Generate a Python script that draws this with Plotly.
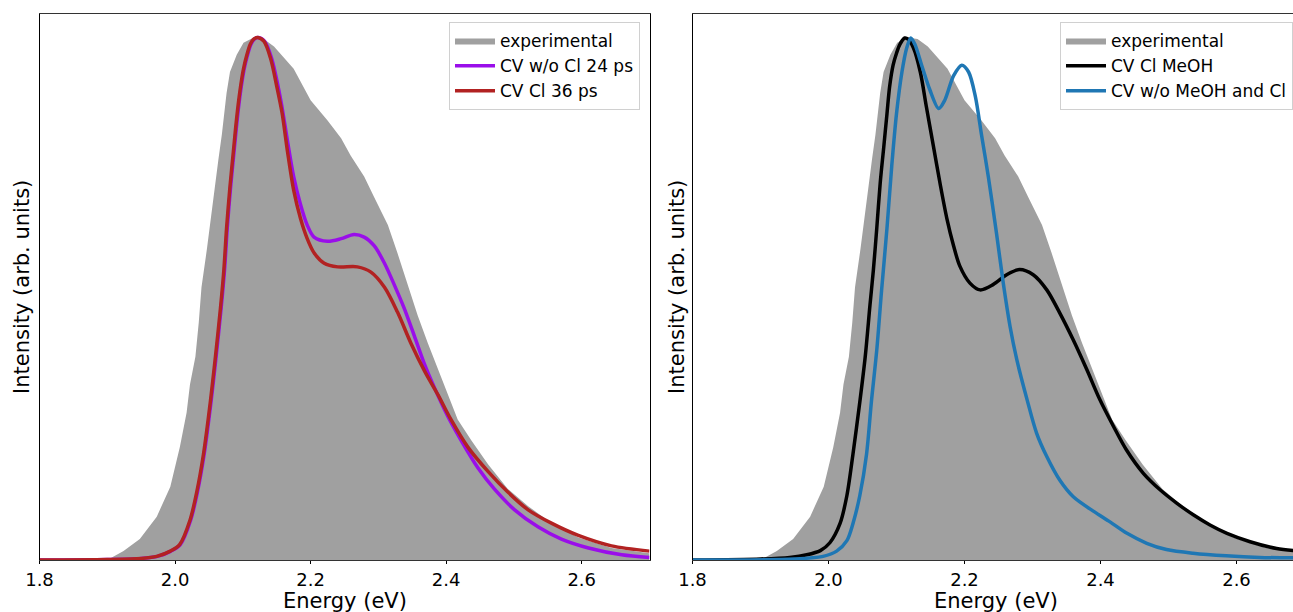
import plotly.graph_objects as go

# ---------------- data ----------------
exp_x = [1.80, 1.904, 1.924, 1.948, 1.973, 1.993, 2.007, 2.017, 2.022, 2.030, 2.035, 2.039,
         2.047, 2.052, 2.059, 2.064, 2.069, 2.076, 2.081, 2.091, 2.101, 2.116, 2.131, 2.146,
         2.175, 2.200, 2.225, 2.245, 2.259, 2.279, 2.294, 2.314, 2.328, 2.343, 2.358, 2.373,
         2.383, 2.397, 2.417, 2.437, 2.462, 2.491, 2.521, 2.556, 2.595, 2.644, 2.70]
exp_y = [0.0, 0.003, 0.017, 0.040, 0.083, 0.140, 0.216, 0.282, 0.336, 0.389, 0.455, 0.522,
         0.595, 0.648, 0.714, 0.767, 0.814, 0.894, 0.934, 0.967, 0.990, 1.0, 0.997, 0.983,
         0.940, 0.880, 0.841, 0.807, 0.774, 0.734, 0.694, 0.641, 0.588, 0.528, 0.468, 0.415,
         0.382, 0.336, 0.269, 0.229, 0.183, 0.136, 0.103, 0.070, 0.043, 0.023, 0.013]

cl36_x = [1.80, 1.90, 1.95, 1.973, 1.993, 2.007, 2.022, 2.032, 2.042, 2.052, 2.059, 2.067,
          2.072, 2.076, 2.081, 2.086, 2.091, 2.096, 2.101, 2.106, 2.111, 2.116, 2.122, 2.131,
          2.141, 2.150, 2.158, 2.166, 2.175, 2.185, 2.195, 2.205, 2.220, 2.240, 2.269, 2.289,
          2.309, 2.328, 2.348, 2.368, 2.388, 2.407, 2.432, 2.462, 2.491, 2.521, 2.556, 2.595,
          2.644, 2.70]
cl36_y = [0.0, 0.001, 0.003, 0.007, 0.017, 0.030, 0.076, 0.130, 0.203, 0.302, 0.382, 0.482,
          0.555, 0.635, 0.714, 0.781, 0.847, 0.900, 0.940, 0.967, 0.987, 0.997, 1.0, 0.993,
          0.960, 0.907, 0.855, 0.781, 0.708, 0.654, 0.615, 0.588, 0.568, 0.561, 0.561, 0.551,
          0.522, 0.475, 0.415, 0.362, 0.316, 0.269, 0.216, 0.169, 0.130, 0.096, 0.070, 0.047,
          0.027, 0.017]

nocl24_x = [1.80, 1.90, 1.95, 1.974, 1.994, 2.008, 2.023, 2.033, 2.043, 2.053, 2.060, 2.068,
            2.073, 2.077, 2.082, 2.087, 2.092, 2.097, 2.102, 2.107, 2.112, 2.117, 2.123, 2.132,
            2.142, 2.156, 2.166, 2.175, 2.185, 2.195, 2.205, 2.225, 2.245, 2.264, 2.279, 2.294,
            2.309, 2.323, 2.338, 2.353, 2.368, 2.383, 2.402, 2.422, 2.447, 2.471, 2.501, 2.536,
            2.570, 2.610, 2.659, 2.70]
nocl24_y = [0.0, 0.001, 0.003, 0.007, 0.017, 0.030, 0.076, 0.130, 0.203, 0.302, 0.382, 0.482,
            0.555, 0.635, 0.714, 0.781, 0.847, 0.900, 0.940, 0.967, 0.987, 0.997, 1.0, 0.993,
            0.962, 0.880, 0.801, 0.734, 0.681, 0.641, 0.618, 0.610, 0.615, 0.623, 0.618, 0.601,
            0.568, 0.528, 0.482, 0.429, 0.375, 0.329, 0.276, 0.229, 0.176, 0.136, 0.096, 0.063,
            0.040, 0.023, 0.010, 0.005]

meoh_x = [1.80, 1.90, 1.943, 1.968, 1.988, 2.002, 2.017, 2.027, 2.036, 2.046, 2.054, 2.061,
          2.066, 2.071, 2.076, 2.081, 2.086, 2.090, 2.095, 2.100, 2.105, 2.112, 2.117, 2.125,
          2.135, 2.144, 2.154, 2.164, 2.174, 2.184, 2.193, 2.208, 2.223, 2.242, 2.262, 2.281,
          2.301, 2.321, 2.340, 2.360, 2.380, 2.399, 2.419, 2.438, 2.463, 2.488, 2.512, 2.537,
          2.561, 2.586, 2.620, 2.659, 2.70]
meoh_y = [0.0, 0.002, 0.005, 0.010, 0.018, 0.033, 0.070, 0.123, 0.203, 0.302, 0.389, 0.488,
          0.555, 0.635, 0.721, 0.787, 0.854, 0.907, 0.947, 0.970, 0.987, 0.999, 0.997, 0.980,
          0.934, 0.867, 0.794, 0.721, 0.654, 0.601, 0.563, 0.530, 0.517, 0.527, 0.546, 0.556,
          0.546, 0.517, 0.473, 0.421, 0.364, 0.307, 0.256, 0.211, 0.166, 0.134, 0.109, 0.086,
          0.067, 0.051, 0.035, 0.022, 0.016]

bare_x = [1.80, 1.95, 1.992, 2.012, 2.027, 2.036, 2.046, 2.056, 2.063, 2.071, 2.078, 2.086,
          2.093, 2.100, 2.108, 2.115, 2.121, 2.127, 2.137, 2.149, 2.162, 2.171, 2.184, 2.196,
          2.206, 2.216, 2.225, 2.235, 2.247, 2.257, 2.267, 2.277, 2.292, 2.306, 2.321, 2.340,
          2.360, 2.390, 2.414, 2.439, 2.468, 2.497, 2.536, 2.585, 2.634, 2.70]
bare_y = [0.0, 0.002, 0.007, 0.017, 0.037, 0.070, 0.123, 0.203, 0.302, 0.402, 0.515, 0.635,
          0.754, 0.854, 0.934, 0.980, 0.999, 0.987, 0.947, 0.900, 0.864, 0.880, 0.927, 0.947,
          0.934, 0.887, 0.814, 0.734, 0.626, 0.530, 0.447, 0.383, 0.307, 0.243, 0.198, 0.153,
          0.121, 0.093, 0.073, 0.051, 0.032, 0.020, 0.013, 0.008, 0.005, 0.004]

tick_vals = [1.8, 2.0, 2.2, 2.4, 2.6]
tick_text = ["1.8", "2.0", "2.2", "2.4", "2.6"]

GRAY = "#a0a0a0"
FONT = "DejaVu Sans"
W, H = 1293, 612
SPL = dict(shape="spline", smoothing=0.85)

fig = go.Figure()

# left panel
fig.add_trace(go.Scatter(x=exp_x, y=exp_y, mode="lines", fill="tozeroy", fillcolor=GRAY,
                         line=dict(width=0, color=GRAY), name="experimental",
                         xaxis="x", yaxis="y", legend="legend"))
fig.add_trace(go.Scatter(x=nocl24_x, y=nocl24_y, mode="lines", name="CV w/o Cl 24 ps",
                         line=dict(color="#9a0eea", width=3.5, **SPL),
                         xaxis="x", yaxis="y", legend="legend"))
fig.add_trace(go.Scatter(x=cl36_x, y=cl36_y, mode="lines", name="CV Cl 36 ps",
                         line=dict(color="#b22222", width=3.5, **SPL),
                         xaxis="x", yaxis="y", legend="legend"))

# right panel
fig.add_trace(go.Scatter(x=exp_x, y=exp_y, mode="lines", fill="tozeroy", fillcolor=GRAY,
                         line=dict(width=0, color=GRAY), name="experimental",
                         xaxis="x2", yaxis="y2", legend="legend2"))
fig.add_trace(go.Scatter(x=meoh_x, y=meoh_y, mode="lines", name="CV Cl MeOH",
                         line=dict(color="black", width=3.5, **SPL),
                         xaxis="x2", yaxis="y2", legend="legend2"))
fig.add_trace(go.Scatter(x=bare_x, y=bare_y, mode="lines", name="CV w/o MeOH and Cl",
                         line=dict(color="#1f77b4", width=3.5, **SPL),
                         xaxis="x2", yaxis="y2", legend="legend2"))

ydom = [1 - 560 / H, 1 - 14 / H]
xcommon = dict(tickvals=tick_vals, ticktext=tick_text, ticks="outside", ticklen=3,
               tickcolor="black", tickwidth=1, showgrid=False, zeroline=False,
               showline=True, linecolor="#333333", linewidth=1, mirror=True,
               tickfont=dict(family=FONT, size=18, color="black"), automargin=False)
ycommon = dict(range=[0, 1.045], showticklabels=False, ticks="", showgrid=False,
               zeroline=False, showline=True, linecolor="black", linewidth=1,
               automargin=False)

legcommon = dict(bgcolor="rgba(255,255,255,0.8)", bordercolor="#d0d0d0", borderwidth=1,
                 font=dict(family=FONT, size=17, color="black"), itemwidth=40,
                 yanchor="top", xanchor="right", y=1 - 22 / H)

fig.update_layout(
    width=W, height=H, margin=dict(l=0, r=0, t=0, b=0),
    paper_bgcolor="white", plot_bgcolor="white",
    xaxis=dict(domain=[39.5 / W, 649.5 / W], range=[1.8, 2.7], anchor="y", **xcommon),
    yaxis=dict(domain=ydom, anchor="x", mirror=True, **ycommon),
    xaxis2=dict(domain=[692.5 / W, 1.0], range=[1.8, 1.8 + 600.5 / 680], anchor="y2", **xcommon),
    yaxis2=dict(domain=ydom, anchor="x2", mirror=False, **ycommon),
    legend=dict(x=640 / W, **legcommon),
    legend2=dict(x=1.0, **legcommon),
    showlegend=True,
)

anns = [
    dict(text="Energy (eV)", x=(39.5 + 649.5) / 2 / W, y=1 - 601 / H),
    dict(text="Energy (eV)", x=(692.5 + 1300) / 2 / W, y=1 - 601 / H),
    dict(text="Intensity (arb. units)", x=22 / W, y=1 - 287 / H, textangle=-90),
    dict(text="Intensity (arb. units)", x=677 / W, y=1 - 287 / H, textangle=-90),
]
for a in anns:
    fig.add_annotation(xref="paper", yref="paper", showarrow=False,
                       xanchor="center", yanchor="middle",
                       font=dict(family=FONT, size=21, color="black"), **a)

fig.write_html("out.html", config={"displayModeBar": False},
               post_script="document.body.style.margin='0';document.body.style.overflow='hidden';")
